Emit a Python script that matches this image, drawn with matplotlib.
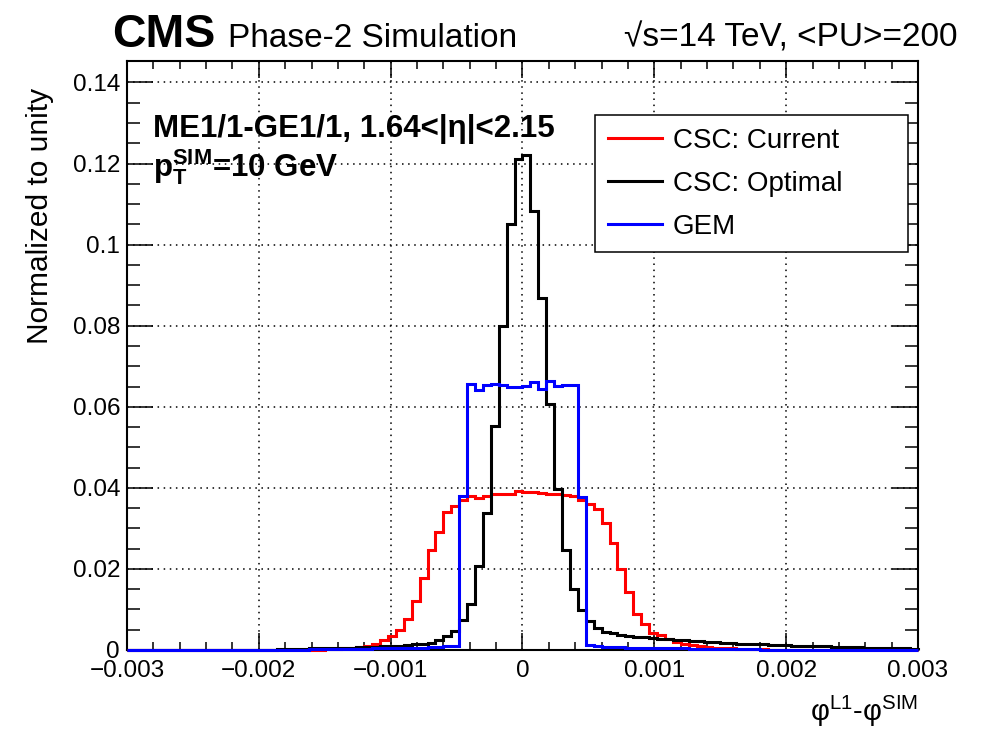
import numpy as np
import matplotlib
matplotlib.use('Agg')
import matplotlib.pyplot as plt

plt.rcParams['font.family'] = ['Liberation Sans', 'DejaVu Sans']
plt.rcParams['mathtext.fontset'] = 'custom'
plt.rcParams['mathtext.rm'] = 'Liberation Sans'
plt.rcParams['mathtext.bf'] = 'Liberation Sans:bold'

# 100 bins from -0.003 to 0.003
x_lo, x_hi, n_bins = -0.003, 0.003, 100

csc_current = [
    0, 0, 0, 0, 0, 0, 0, 0, 0, 0,
    0, 0, 0, 0, 0, 0, 0, 0, 0, 0,
    0, 0, 0.0001, 0.0001, 0.0001, 0.0002, 0.0003, 0.0004, 0.0005, 0.0007,
    0.0010, 0.0016, 0.0024, 0.0034, 0.0050, 0.0076, 0.0121, 0.0178, 0.0246, 0.0292,
    0.0340, 0.0356, 0.0369, 0.0381, 0.0375, 0.0380, 0.0385, 0.0385, 0.0386, 0.0393,
    0.0391, 0.0390, 0.0388, 0.0386, 0.0384, 0.0383, 0.0380, 0.0371, 0.0361, 0.0347,
    0.0314, 0.0265, 0.0201, 0.0142, 0.0090, 0.0063, 0.0042, 0.0036, 0.0027, 0.0020,
    0.0016, 0.0013, 0.0010, 0.0008, 0.0006, 0.0005, 0.0004, 0.0003, 0.0003, 0.0002,
    0.0002, 0.0001, 0.0001, 0.0001, 0.0001, 0.0001, 0, 0, 0, 0,
    0, 0, 0, 0, 0, 0, 0, 0, 0, 0,
]

csc_optimal = [
    0, 0, 0, 0, 0, 0, 0, 0, 0, 0,
    0, 0, 0, 0, 0, 0, 0, 0.0001, 0.0001, 0.0002,
    0.0002, 0.0003, 0.0003, 0.0004, 0.0004, 0.0005, 0.0005, 0.0006, 0.0006, 0.0007,
    0.0008, 0.0008, 0.0009, 0.0010, 0.0011, 0.0012, 0.0014, 0.0016, 0.0018, 0.0024,
    0.0035, 0.0046, 0.0073, 0.0114, 0.0206, 0.0338, 0.0552, 0.0800, 0.1050, 0.1211,
    0.1221, 0.1082, 0.0868, 0.0606, 0.0397, 0.0246, 0.0151, 0.0098, 0.0072, 0.0055,
    0.0045, 0.0041, 0.0037, 0.0035, 0.0033, 0.0031, 0.0030, 0.0028, 0.0027, 0.0025,
    0.0024, 0.0022, 0.0021, 0.0020, 0.0019, 0.0018, 0.0017, 0.0016, 0.0015, 0.0015,
    0.0014, 0.0013, 0.0013, 0.0012, 0.0011, 0.0011, 0.0010, 0.0009, 0.0009, 0.0008,
    0.0008, 0.0007, 0.0007, 0.0006, 0.0006, 0.0005, 0.0005, 0.0004, 0.0004, 0.0003,
]

gem = [
    0, 0, 0, 0, 0, 0, 0, 0, 0, 0,
    0, 0, 0, 0, 0, 0, 0, 0, 0, 0,
    0.0001, 0.0001, 0.0001, 0.0002, 0.0002, 0.0002, 0.0002, 0.0003, 0.0003, 0.0003,
    0.0003, 0.0004, 0.0004, 0.0004, 0.0005, 0.0005, 0.0006, 0.0006, 0.0007, 0.0008,
    0.0009, 0.0011, 0.0379, 0.0656, 0.0642, 0.0654, 0.0656, 0.0653, 0.0650, 0.0648,
    0.0652, 0.0660, 0.0645, 0.0664, 0.0652, 0.0653, 0.0653, 0.0377, 0.0012, 0.0009,
    0.0008, 0.0007, 0.0007, 0.0006, 0.0006, 0.0005, 0.0005, 0.0005, 0.0004, 0.0004,
    0.0004, 0.0003, 0.0003, 0.0003, 0.0003, 0.0002, 0.0002, 0.0002, 0.0002, 0.0002,
    0.0001, 0.0001, 0.0001, 0.0001, 0.0001, 0.0001, 0.0001, 0.0001, 0.0001, 0.0001,
    0.0001, 0.0001, 0.0001, 0.0001, 0.0001, 0, 0, 0, 0, 0,
]

series = ["CSC: Current", "CSC: Optimal", "GEM"]
colors = ["#ff0000", "#000000", "#0000ff"]

xticks = [-0.003, -0.002, -0.001, 0, 0.001, 0.002, 0.003]
xtick_labels = ["\u22120.003", "\u22120.002", "\u22120.001", "0", "0.001", "0.002", "0.003"]
yticks = [0, 0.02, 0.04, 0.06, 0.08, 0.1, 0.12, 0.14]
ytick_labels = ["0", "0.02", "0.04", "0.06", "0.08", "0.1", "0.12", "0.14"]

W, H = 984, 734
fig = plt.figure(figsize=(W / 100, H / 100), dpi=100)
ax = fig.add_axes([127 / W, 1 - 650 / H, (918 - 127) / W, (650 - 61) / H])

edges = np.linspace(x_lo, x_hi, n_bins + 1)
for vals, lab, col in zip([csc_current, csc_optimal, gem], series, colors):
    ax.stairs(vals, edges, color=col, lw=2.2, label=lab, clip_on=False, zorder=3)

ax.set_xlim(x_lo, x_hi)
ax.set_ylim(0, 0.1453)
ax.set_xticks(xticks, xtick_labels)
ax.set_yticks(yticks, ytick_labels)
ax.set_xticks(np.arange(-0.003, 0.00301, 0.0002), minor=True)
ax.set_yticks(np.arange(0, 0.145, 0.005), minor=True)
ax.tick_params(which='both', direction='in', top=True, right=True, width=1.1, labelsize=17.5)
ax.tick_params(axis='x', which='major', length=12, pad=7)
ax.tick_params(axis='x', which='minor', length=6)
ax.tick_params(axis='y', which='major', length=19, pad=5)
ax.tick_params(axis='y', which='minor', length=9.5)
for s in ax.spines.values():
    s.set_linewidth(1.5)
ax.grid(True, which='major', color='black', linestyle=(0, (1, 3)), lw=1.1)
ax.set_axisbelow(True)

leg = ax.legend(loc='upper left', bbox_to_anchor=(595 / W, 1 - 115 / H, (908 - 595) / W, 0),
                bbox_transform=fig.transFigure, mode='expand', fontsize=20, frameon=True,
                fancybox=False, framealpha=1, edgecolor='black', handlelength=1.95,
                handletextpad=0.4, labelspacing=0.62, borderpad=0.45, borderaxespad=0)
leg.get_frame().set_linewidth(1.1)

fig.text(112 / W, 1 - 46.7 / H, "CMS", fontsize=33.5, fontweight='bold', va='baseline')
fig.text(228 / W, 1 - 46.7 / H, "Phase-2 Simulation", fontsize=24, va='baseline')
fig.text(958 / W, 1 - 46.7 / H, "\u221as=14 TeV, <PU>=200", fontsize=24, va='baseline', ha='right')

fig.text(153 / W, 1 - 136.7 / H, "ME1/1-GE1/1, 1.64<|\u03b7|<2.15", fontsize=22.5, fontweight='bold',
         va='baseline')
fig.text(153 / W, 1 - 176.7 / H, r"$\mathbf{p}_{\mathbf{T}}^{\mathbf{SIM}}$=10 GeV", fontsize=22.5,
         fontweight='bold', va='baseline')

fig.text(40 / W, 1 - 88 / H, "Normalized to unity", fontsize=21.5, rotation=90, ha='center', va='top')
fig.text(918 / W, 1 - 721 / H, "\u03c6$^{\\mathrm{L1}}$-\u03c6$^{\\mathrm{SIM}}$",
         fontsize=21, ha='right', va='baseline')

fig.savefig("out.png", dpi=100)
